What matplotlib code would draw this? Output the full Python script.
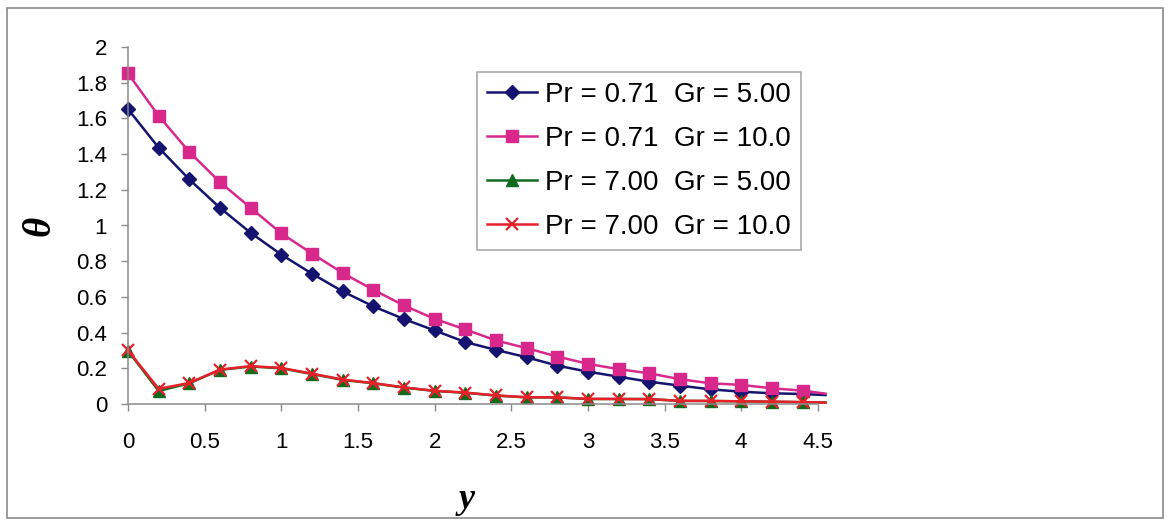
import numpy as np
import matplotlib
matplotlib.use("Agg")
import matplotlib.pyplot as plt
from matplotlib.patches import Rectangle
from matplotlib.ticker import MultipleLocator, FuncFormatter

plt.rcParams['font.family'] = ['Liberation Sans', 'DejaVu Sans']

# ---------------- Temperature profiles theta(y) ----------------
y = [0.0, 0.2, 0.4, 0.6, 0.8, 1.0, 1.2, 1.4, 1.6, 1.8, 2.0, 2.2,
     2.4, 2.6, 2.8, 3.0, 3.2, 3.4, 3.6, 3.8, 4.0, 4.2, 4.4, 4.55]

theta_pr071_gr5 = [1.652, 1.436, 1.258, 1.099, 0.959, 0.837, 0.730, 0.631,
                   0.547, 0.476, 0.412, 0.347, 0.303, 0.262, 0.215, 0.181,
                   0.153, 0.125, 0.103, 0.082, 0.069, 0.060, 0.056, 0.050]
theta_pr071_gr10 = [1.852, 1.614, 1.412, 1.243, 1.099, 0.956, 0.843, 0.734,
                    0.640, 0.552, 0.477, 0.418, 0.356, 0.313, 0.266, 0.225,
                    0.195, 0.172, 0.139, 0.116, 0.107, 0.088, 0.075, 0.058]
theta_pr7_gr5 = [0.298, 0.073, 0.116, 0.191, 0.210, 0.200, 0.168, 0.135,
                 0.116, 0.092, 0.073, 0.063, 0.047, 0.037, 0.037, 0.028,
                 0.028, 0.028, 0.017, 0.017, 0.015, 0.013, 0.010, 0.008]
theta_pr7_gr10 = [0.300, 0.085, 0.118, 0.193, 0.212, 0.202, 0.170, 0.137,
                  0.117, 0.093, 0.074, 0.064, 0.048, 0.038, 0.037, 0.029,
                  0.028, 0.027, 0.018, 0.017, 0.015, 0.013, 0.011, 0.008]

labels = ["Pr = 0.71  Gr = 5.00", "Pr = 0.71  Gr = 10.0",
          "Pr = 7.00  Gr = 5.00", "Pr = 7.00  Gr = 10.0"]

fig = plt.figure(figsize=(11.73, 5.21), dpi=100)
ax = fig.add_axes([128 / 1173, 117 / 521, 697.5 / 1173, 357 / 521])

# last sample only extends the line to the plot edge, no marker there
mk = slice(0, len(y) - 1)
ax.plot(y, theta_pr071_gr5, color='#141470', lw=1.8, marker='D', ms=7,
        markevery=mk, clip_on=False, label=labels[0])
ax.plot(y, theta_pr071_gr10, color='#D9288C', lw=1.8, marker='s', ms=8.5,
        markevery=mk, clip_on=False, label=labels[1])
ax.plot(y, theta_pr7_gr5, color='#106B1E', lw=1.8, marker='^', ms=8.5,
        markevery=mk, clip_on=False, label=labels[2])
ax.plot(y, theta_pr7_gr10, color='#E8202A', lw=1.8, marker='x', ms=8, mew=1.6,
        markevery=mk, clip_on=False, label=labels[3])

ax.set_xlim(0, 4.55)
ax.set_ylim(0, 2)
ax.xaxis.set_major_locator(MultipleLocator(0.5))
ax.yaxis.set_major_locator(MultipleLocator(0.2))
fmt = FuncFormatter(lambda v, p: f"{v:g}")
ax.xaxis.set_major_formatter(fmt)
ax.yaxis.set_major_formatter(fmt)

for s in ['top', 'right']:
    ax.spines[s].set_visible(False)
for s in ['left', 'bottom']:
    ax.spines[s].set_color('#8A8A8A')
    ax.spines[s].set_linewidth(1.1)
ax.spines['bottom'].set_bounds(0, 4.5)

ax.tick_params(axis='x', direction='out', length=5, width=1, color='#8A8A8A',
               labelsize=16, pad=15)
ax.tick_params(axis='y', direction='out', length=5, width=1, color='#8A8A8A',
               labelsize=16, pad=10)

ax.set_ylabel("θ", family='Liberation Serif', fontsize=28, fontweight='bold',
              fontstyle='italic')
ax.yaxis.set_label_coords(-0.1, 0.5)
ax.set_xlabel("y", family='Liberation Serif', fontsize=26, fontweight='bold',
              fontstyle='italic')
ax.xaxis.set_label_coords(0.485, -0.22)

leg = ax.legend(loc='upper left', bbox_to_anchor=(477 / 1173, 1 - 72 / 521),
                bbox_transform=fig.transFigure, fontsize=20, frameon=True,
                fancybox=False, edgecolor='#8A8A8A', handlelength=1.8,
                handletextpad=0.3, labelspacing=0.65, borderpad=0.36,
                borderaxespad=0)
leg.get_frame().set_linewidth(1.1)

# outer chart border
fig.patches.append(Rectangle((7 / 1173, 3 / 521), 1156 / 1173, 510 / 521,
                             transform=fig.transFigure, fill=False,
                             edgecolor='#8A8A8A', lw=1.2))

fig.savefig("out.png", dpi=100)
